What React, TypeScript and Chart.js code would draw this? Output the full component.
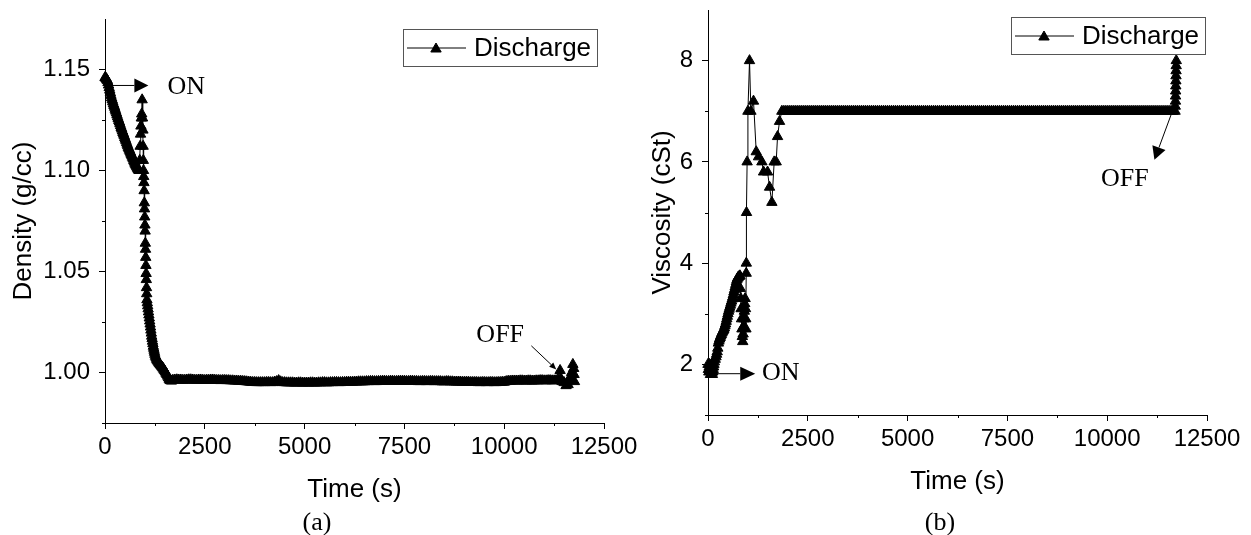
import React, { useEffect, useRef } from 'react';
import { Chart, registerables } from 'chart.js';

Chart.register(...registerables);

// ---------------- data ----------------
const seriesName = 'Discharge';

const xTickLabels = ['0', '2500', '5000', '7500', '10000', '12500'];
const densityTickLabels = ['1.00', '1.05', '1.10', '1.15'];
const viscosityTickLabels = ['2', '4', '6', '8'];

// Density: initial decay (0–855 s)
const densityEarlyTime = [
  0, 15, 30, 45, 60, 75, 90, 105, 120, 135, 150, 165, 180, 195, 210, 225, 240, 255, 270, 285,
  300, 315, 330, 345, 360, 375, 390, 405, 420, 435, 450, 465, 480, 495, 510, 525, 540, 555, 570, 585,
  600, 615, 630, 645, 660, 675, 690, 705, 720, 735, 750, 765, 780, 795, 810, 825, 840, 855,
];
const densityEarlyValues = [
  1.1460, 1.1458, 1.1455, 1.1450, 1.1445, 1.1435, 1.1423, 1.1410, 1.1398, 1.1385, 1.1372, 1.1360, 1.1350,
  1.1340, 1.1330, 1.1322, 1.1313, 1.1303, 1.1294, 1.1285, 1.1275, 1.1266, 1.1257, 1.1248, 1.1240, 1.1231,
  1.1222, 1.1213, 1.1205, 1.1196, 1.1188, 1.1180, 1.1172, 1.1163, 1.1155, 1.1147, 1.1138, 1.1130, 1.1122,
  1.1114, 1.1107, 1.1100, 1.1093, 1.1086, 1.1079, 1.1072, 1.1065, 1.1058, 1.1050, 1.1043, 1.1036, 1.1030,
  1.1024, 1.1018, 1.1012, 1.1007, 1.1003, 1.1000,
];

// Density: spike and steep drop (870–1670 s)
const densityDropTime = [
  870, 880, 890, 900, 910, 920, 930, 940, 950, 955, 960, 965, 970, 975, 980, 985, 990, 995, 1000,
  1005, 1010, 1015, 1020, 1025, 1030, 1035, 1040, 1045,
  1050, 1060, 1070, 1080, 1090, 1100, 1110, 1120, 1130, 1140, 1150, 1160, 1170, 1180, 1190, 1200,
  1210, 1220, 1230, 1240, 1250, 1265, 1280, 1295, 1310, 1330, 1350, 1370, 1390, 1410, 1430, 1450,
  1470, 1490, 1510, 1530, 1550, 1570, 1590, 1610, 1630, 1650, 1670,
];
const densityDropValues = [
  1.105, 1.112, 1.118, 1.122, 1.126, 1.128, 1.135, 1.126, 1.120, 1.112, 1.105, 1.100, 1.097, 1.094, 1.090,
  1.084, 1.081, 1.077, 1.073, 1.070, 1.064, 1.061, 1.057, 1.053, 1.049, 1.046, 1.042, 1.039,
  1.036, 1.0345, 1.033, 1.0315, 1.030, 1.0285, 1.027, 1.0255, 1.024, 1.0225, 1.021, 1.0195, 1.018, 1.0168,
  1.0155, 1.0143, 1.013, 1.012, 1.011, 1.010, 1.009, 1.008, 1.0072, 1.0065, 1.006, 1.0053, 1.0047, 1.0042,
  1.0037, 1.0032, 1.0027, 1.0022, 1.0016, 1.001, 1.0003, 0.9996, 0.999, 0.9982, 0.9974, 0.9966, 0.9961,
  0.9959, 0.9958,
];

// Density: plateau (1700–11300 s)
const densityFlatTime = [
  1700, 1750, 1800, 1850, 1900, 1950,
  2000, 2050, 2100, 2150, 2200, 2250, 2300, 2350, 2400, 2450, 2500, 2550, 2600, 2650, 2700, 2750, 2800, 2850, 2900, 2950,
  3000, 3050, 3100, 3150, 3200, 3250, 3300, 3350, 3400, 3450, 3500, 3550, 3600, 3650, 3700, 3750, 3800, 3850, 3900, 3950,
  4000, 4050, 4100, 4150, 4200, 4250, 4300, 4350, 4400, 4450, 4500, 4550, 4600, 4650, 4700, 4750, 4800, 4850, 4900, 4950,
  5000, 5050, 5100, 5150, 5200, 5250, 5300, 5350, 5400, 5450, 5500, 5550, 5600, 5650, 5700, 5750, 5800, 5850, 5900, 5950,
  6000, 6050, 6100, 6150, 6200, 6250, 6300, 6350, 6400, 6450, 6500, 6550, 6600, 6650, 6700, 6750, 6800, 6850, 6900, 6950,
  7000, 7050, 7100, 7150, 7200, 7250, 7300, 7350, 7400, 7450, 7500, 7550, 7600, 7650, 7700, 7750, 7800, 7850, 7900, 7950,
  8000, 8050, 8100, 8150, 8200, 8250, 8300, 8350, 8400, 8450, 8500, 8550, 8600, 8650, 8700, 8750, 8800, 8850, 8900, 8950,
  9000, 9050, 9100, 9150, 9200, 9250, 9300, 9350, 9400, 9450, 9500, 9550, 9600, 9650, 9700, 9750, 9800, 9850, 9900, 9950,
  10000, 10050, 10100, 10150, 10200, 10250, 10300, 10350, 10400, 10450, 10500, 10550, 10600, 10650, 10700, 10750, 10800,
  10850, 10900, 10950,
  11000, 11050, 11100, 11150, 11200, 11250, 11300,
];
const densityFlatValues = [
  0.9962, 0.9963, 0.9964, 0.9963, 0.9963, 0.9962, 0.9962, 0.9963, 0.9964, 0.9964,
  0.9963, 0.9962, 0.9962, 0.9963, 0.9963, 0.9962, 0.9961, 0.9962, 0.9962, 0.9963,
  0.9963, 0.9962, 0.9961, 0.9961, 0.9960, 0.9961, 0.9961, 0.9960, 0.9960, 0.9959,
  0.9959, 0.9958, 0.9958, 0.9957, 0.9957,
  0.9956, 0.9955, 0.9954, 0.9953, 0.9952, 0.9951, 0.9951, 0.9950, 0.9950, 0.9950, 0.9950,
  0.9950, 0.9951, 0.9951, 0.9950, 0.9950, 0.9953, 0.9955, 0.9960, 0.9954, 0.9950,
  0.9950, 0.9949, 0.9949, 0.9949, 0.9949, 0.9948, 0.9948, 0.9949, 0.9949, 0.9948,
  0.9948, 0.9948, 0.9948, 0.9949, 0.9949, 0.9948, 0.9948, 0.9949, 0.9949, 0.9950,
  0.9950, 0.9949, 0.9949, 0.9950, 0.9950, 0.9951, 0.9951, 0.9950, 0.9950, 0.9951,
  0.9951, 0.9952, 0.9952, 0.9952, 0.9952, 0.9953, 0.9953, 0.9954, 0.9954, 0.9954,
  0.9954,
  0.9955, 0.9955, 0.9956, 0.9956, 0.9955, 0.9955, 0.9956, 0.9956, 0.9957, 0.9957,
  0.9956, 0.9956, 0.9957, 0.9957, 0.9956, 0.9956, 0.9957, 0.9957, 0.9957, 0.9957,
  0.9956, 0.9956, 0.9957, 0.9957, 0.9956, 0.9956, 0.9955, 0.9955, 0.9956, 0.9956,
  0.9955, 0.9955, 0.9956, 0.9956, 0.9955, 0.9955, 0.9955, 0.9955, 0.9954, 0.9954,
  0.9955, 0.9955, 0.9954, 0.9954, 0.9953, 0.9953, 0.9953, 0.9953, 0.9952, 0.9952,
  0.9952, 0.9952, 0.9951, 0.9951, 0.9951, 0.9951, 0.9950, 0.9950, 0.9951, 0.9951,
  0.9950, 0.9950, 0.9951, 0.9951, 0.9950, 0.9950, 0.9951, 0.9951, 0.9952, 0.9952,
  0.9955, 0.9957, 0.9957, 0.9958, 0.9958, 0.9958, 0.9958, 0.9959, 0.9959, 0.9958,
  0.9958, 0.9959, 0.9959, 0.9958, 0.9958, 0.9959, 0.9959, 0.9960, 0.9960, 0.9959,
  0.9959, 0.9960, 0.9960, 0.9959, 0.9959, 0.9960,
];

// Density: switch-off scatter (11350–11760 s)
const densityEndTime = [11350, 11400, 11420, 11450, 11500, 11550, 11600, 11630, 11660, 11690, 11720, 11740, 11750, 11760];
const densityEndValues = [0.9965, 1.001, 0.997, 0.9955, 0.995, 0.9935, 0.994, 0.996, 0.998, 1.0, 1.004, 1.002, 0.999, 0.9955];

// Viscosity: start-up and rise (0–950 s)
const viscosityEarlyTime = [
  0, 10, 20, 30, 40, 50, 60, 70, 80, 90, 100, 110, 120, 130, 140, 150, 160, 180, 200, 215, 230, 245,
  260, 275, 290, 305, 320, 335, 350, 365, 380, 395, 410, 425, 440, 455, 470, 485, 500, 515, 530, 545,
  560, 575, 590, 605, 620, 635, 650, 665, 680, 695, 710, 725, 740, 755, 770, 785, 800,
  810, 820, 830, 840, 850, 860, 870, 880, 890, 900, 910, 920, 930, 940, 945, 950,
];
const viscosityEarlyValues = [
  2.0, 1.9, 1.85, 1.95, 2.0, 1.9, 1.8, 1.85, 1.95, 2.0, 1.9, 1.8, 1.85, 1.9, 1.95, 2.0, 2.05, 2.1, 2.15, 2.2,
  2.25, 2.32, 2.42, 2.46, 2.5, 2.53, 2.56, 2.59, 2.62, 2.645, 2.67, 2.69, 2.72, 2.76, 2.8, 2.85, 2.9, 2.95,
  3.0, 3.05, 3.09, 3.13, 3.17, 3.21, 3.25, 3.29, 3.33, 3.38, 3.43, 3.48, 3.53, 3.58, 3.63, 3.67, 3.7, 3.72,
  3.73, 3.74, 3.75,
  3.5, 3.3, 3.1, 2.9, 2.7, 2.55, 2.45, 2.6, 2.75, 2.9, 3.05, 3.2, 3.3, 3.1, 2.9, 2.7,
];

// Viscosity: jump and settling (957–1850 s)
const viscosityJumpTime = [957, 960, 965, 980, 1000, 1040, 1075, 1140, 1208, 1266, 1350, 1392, 1492, 1542, 1600, 1658, 1708, 1742, 1792, 1850];
const viscosityJumpValues = [3.8, 4.0, 5.0, 6.0, 7.0, 8.0, 7.0, 7.2, 6.2, 6.1, 6.0, 5.8, 5.8, 5.5, 5.2, 6.0, 6.0, 6.5, 6.8, 7.0];

// Viscosity: plateau (1900–11650 s)
const viscosityFlatTime = [
  1900, 1950,
  2000, 2050, 2100, 2150, 2200, 2250, 2300, 2350, 2400, 2450, 2500, 2550, 2600, 2650, 2700, 2750, 2800, 2850, 2900, 2950,
  3000, 3050, 3100, 3150, 3200, 3250, 3300, 3350, 3400, 3450, 3500, 3550, 3600, 3650, 3700, 3750, 3800, 3850, 3900, 3950,
  4000, 4050, 4100, 4150, 4200, 4250, 4300, 4350, 4400, 4450, 4500, 4550, 4600, 4650, 4700, 4750, 4800, 4850, 4900, 4950,
  5000, 5050, 5100, 5150, 5200, 5250, 5300, 5350, 5400, 5450, 5500, 5550, 5600, 5650, 5700, 5750, 5800, 5850, 5900, 5950,
  6000, 6050, 6100, 6150, 6200, 6250, 6300, 6350, 6400, 6450, 6500, 6550, 6600, 6650, 6700, 6750, 6800, 6850, 6900, 6950,
  7000, 7050, 7100, 7150, 7200, 7250, 7300, 7350, 7400, 7450, 7500, 7550, 7600, 7650, 7700, 7750, 7800, 7850, 7900, 7950,
  8000, 8050, 8100, 8150, 8200, 8250, 8300, 8350, 8400, 8450, 8500, 8550, 8600, 8650, 8700, 8750, 8800, 8850, 8900, 8950,
  9000, 9050, 9100, 9150, 9200, 9250, 9300, 9350, 9400, 9450, 9500, 9550, 9600, 9650, 9700, 9750, 9800, 9850, 9900, 9950,
  10000, 10050, 10100, 10150, 10200, 10250, 10300, 10350, 10400, 10450, 10500, 10550, 10600, 10650, 10700, 10750, 10800,
  10850, 10900, 10950,
  11000, 11050, 11100, 11150, 11200, 11250, 11300, 11350, 11400, 11450, 11500, 11550, 11600, 11650,
];
const viscosityFlatValues = [
  7, 7,
  7, 7, 7, 7, 7, 7, 7, 7, 7, 7, 7, 7, 7, 7, 7, 7, 7, 7, 7, 7,
  7, 7, 7, 7, 7, 7, 7, 7, 7, 7, 7, 7, 7, 7, 7, 7, 7, 7, 7, 7,
  7, 7, 7, 7, 7, 7, 7, 7, 7, 7, 7, 7, 7, 7, 7, 7, 7, 7, 7, 7,
  7, 7, 7, 7, 7, 7, 7, 7, 7, 7, 7, 7, 7, 7, 7, 7, 7, 7, 7, 7,
  7, 7, 7, 7, 7, 7, 7, 7, 7, 7, 7, 7, 7, 7, 7, 7, 7, 7, 7, 7,
  7, 7, 7, 7, 7, 7, 7, 7, 7, 7, 7, 7, 7, 7, 7, 7, 7, 7, 7, 7,
  7, 7, 7, 7, 7, 7, 7, 7, 7, 7, 7, 7, 7, 7, 7, 7, 7, 7, 7, 7,
  7, 7, 7, 7, 7, 7, 7, 7, 7, 7, 7, 7, 7, 7, 7, 7, 7, 7, 7, 7,
  7, 7, 7, 7, 7, 7, 7, 7, 7, 7, 7, 7, 7, 7, 7, 7, 7, 7, 7, 7,
  7, 7, 7, 7, 7, 7, 7, 7, 7, 7, 7, 7, 7, 7,
];

// Viscosity: switch-off stack (11700–11730 s)
const viscosityEndTime = [11700, 11705, 11710, 11712, 11715, 11718, 11720, 11723, 11725, 11728, 11730];
const viscosityEndValues = [7.0, 7.1, 7.2, 7.3, 7.4, 7.5, 7.6, 7.7, 7.8, 7.9, 8.0];

const densityTime = [...densityEarlyTime, ...densityDropTime, ...densityFlatTime, ...densityEndTime];
const densityValues = [...densityEarlyValues, ...densityDropValues, ...densityFlatValues, ...densityEndValues];
const viscosityTime = [...viscosityEarlyTime, ...viscosityJumpTime, ...viscosityFlatTime, ...viscosityEndTime];
const viscosityValues = [...viscosityEarlyValues, ...viscosityJumpValues, ...viscosityFlatValues, ...viscosityEndValues];

// ---------------- styling ----------------
const SANS = '"Liberation Sans", Arial, sans-serif';
const SERIF = '"Liberation Serif", "Times New Roman", serif';

type Note = {
  text: string;
  tx: number;
  ty: number;
  align: CanvasTextAlign;
  from: [number, number];
  to: [number, number];
  headLen: number;
  headHalf: number;
};

function drawTriangle(ctx: CanvasRenderingContext2D, x: number, y: number, r: number) {
  ctx.beginPath();
  ctx.moveTo(x, y - r);
  ctx.lineTo(x + r * 0.866, y + r * 0.5);
  ctx.lineTo(x - r * 0.866, y + r * 0.5);
  ctx.closePath();
  ctx.fill();
  ctx.stroke();
}

const minorTicksPlugin = {
  id: 'minorTicks',
  afterDraw(chart: any) {
    const ctx = chart.ctx;
    const xs = chart.scales.x;
    const ys = chart.scales.y;
    ctx.save();
    ctx.strokeStyle = '#000';
    ctx.lineWidth = 1;
    xs.ticks.forEach((t: any) => {
      if (t.label === '') {
        const px = Math.round(xs.getPixelForValue(t.value)) + 0.5;
        ctx.beginPath();
        ctx.moveTo(px, xs.top);
        ctx.lineTo(px, xs.top + 3);
        ctx.stroke();
      }
    });
    ys.ticks.forEach((t: any) => {
      if (t.label === '' && Math.abs(t.value - ys.max) > 1e-9) {
        const py = Math.round(ys.getPixelForValue(t.value)) + 0.5;
        ctx.beginPath();
        ctx.moveTo(ys.right, py);
        ctx.lineTo(ys.right - 3, py);
        ctx.stroke();
      }
    });
    ctx.restore();
  },
};

const notesPlugin = {
  id: 'notes',
  afterDatasetsDraw(chart: any, _args: any, opts: any) {
    const items: Note[] = (opts && opts.items) || [];
    const ctx = chart.ctx;
    const xs = chart.scales.x;
    const ys = chart.scales.y;
    ctx.save();
    ctx.strokeStyle = '#000';
    ctx.fillStyle = '#000';
    ctx.lineWidth = 1;
    items.forEach((n) => {
      const x1 = xs.getPixelForValue(n.from[0]);
      const y1 = ys.getPixelForValue(n.from[1]);
      const x2 = xs.getPixelForValue(n.to[0]);
      const y2 = ys.getPixelForValue(n.to[1]);
      const ang = Math.atan2(y2 - y1, x2 - x1);
      const bx = x2 - Math.cos(ang) * n.headLen;
      const by = y2 - Math.sin(ang) * n.headLen;
      ctx.beginPath();
      ctx.moveTo(x1, y1);
      ctx.lineTo(bx, by);
      ctx.stroke();
      ctx.beginPath();
      ctx.moveTo(x2, y2);
      ctx.lineTo(bx + Math.sin(ang) * n.headHalf, by - Math.cos(ang) * n.headHalf);
      ctx.lineTo(bx - Math.sin(ang) * n.headHalf, by + Math.cos(ang) * n.headHalf);
      ctx.closePath();
      ctx.fill();
      ctx.font = '26px ' + SERIF;
      ctx.textAlign = n.align;
      ctx.textBaseline = 'middle';
      ctx.fillText(n.text, xs.getPixelForValue(n.tx), ys.getPixelForValue(n.ty));
    });
    ctx.restore();
  },
};

const boxLegendPlugin = {
  id: 'boxLegend',
  afterDraw(chart: any, _args: any, opts: any) {
    const ctx = chart.ctx;
    const ca = chart.chartArea;
    const w = 194;
    const h = 37;
    const bx = Math.round(ca.right - opts.rightInset - w);
    const by = Math.round(ca.top + opts.topInset);
    ctx.save();
    ctx.fillStyle = '#fff';
    ctx.fillRect(bx, by, w, h);
    ctx.strokeStyle = '#555';
    ctx.lineWidth = 1;
    ctx.strokeRect(bx + 0.5, by + 0.5, w, h);
    const cy = by + h / 2 + 0.5;
    ctx.strokeStyle = '#000';
    ctx.beginPath();
    ctx.moveTo(bx + 4, cy);
    ctx.lineTo(bx + 63, cy);
    ctx.stroke();
    ctx.fillStyle = '#000';
    drawTriangle(ctx, bx + 33, cy + 1, 6);
    ctx.font = '26px ' + SANS;
    ctx.textAlign = 'left';
    ctx.textBaseline = 'middle';
    ctx.fillText(chart.data.datasets[0].label, bx + 71, cy + 1);
    ctx.restore();
  },
};

type PanelProps = {
  left: number;
  width: number;
  height: number;
  times: number[];
  values: number[];
  yMin: number;
  yMax: number;
  yStep: number;
  yLabels: string[];
  yDigits: number;
  yTitle: string;
  yAxisWidth: number;
  yTitlePad: number;
  padTop: number;
  padRight: number;
  padBottom: number;
  legendRightInset: number;
  legendTopInset: number;
  notes: Note[];
};

function Panel(p: PanelProps) {
  const ref = useRef<HTMLCanvasElement | null>(null);
  useEffect(() => {
    if (!ref.current) return;
    const data = p.times.map((t, i) => ({ x: t, y: p.values[i] }));
    const chart = new Chart(ref.current, {
      type: 'line',
      data: {
        datasets: [
          {
            label: seriesName,
            data,
            borderColor: '#000',
            borderWidth: 1,
            backgroundColor: '#000',
            pointStyle: 'triangle',
            pointRadius: 6,
            pointBackgroundColor: '#000',
            pointBorderColor: '#000',
            pointBorderWidth: 1,
            tension: 0,
            clip: false as any,
          },
        ],
      },
      options: {
        animation: false,
        responsive: false,
        devicePixelRatio: 1,
        events: [],
        layout: { padding: { left: 0, top: p.padTop, right: p.padRight, bottom: p.padBottom } },
        plugins: {
          legend: { display: false },
          tooltip: { enabled: false },
          notes: { items: p.notes },
          boxLegend: { rightInset: p.legendRightInset, topInset: p.legendTopInset },
        } as any,
        scales: {
          x: {
            type: 'linear',
            min: 0,
            max: 12500,
            ticks: {
              stepSize: 1250,
              autoSkip: false,
              maxRotation: 0,
              padding: 4,
              color: '#000',
              font: { family: SANS, size: 24 },
              callback: (v: any) => (xTickLabels.includes(String(v)) ? String(v) : ''),
            },
            grid: {
              display: true,
              drawOnChartArea: false,
              drawTicks: true,
              tickLength: 6,
              color: '#000',
              tickColor: (c: any) => (c.tick && c.tick.label === '' ? 'rgba(0,0,0,0)' : '#000'),
            },
            border: { display: true, color: '#000', width: 1 },
            title: {
              display: true,
              text: 'Time (s)',
              color: '#000',
              font: { family: SANS, size: 26 },
              padding: { top: 0, bottom: 0 },
            },
            afterFit: (s: any) => {
              s.height = 82;
              s.paddingLeft = 0;
              s.paddingRight = 0;
            },
          },
          y: {
            type: 'linear',
            min: p.yMin,
            max: p.yMax,
            ticks: {
              stepSize: p.yStep,
              autoSkip: false,
              padding: 9,
              color: '#000',
              font: { family: SANS, size: 24 },
              callback: (v: any) => {
                const s = Number(v).toFixed(p.yDigits);
                return p.yLabels.includes(s) && Math.abs(Number(s) - Number(v)) < 1e-6 ? s : '';
              },
            },
            grid: {
              display: true,
              drawOnChartArea: false,
              drawTicks: true,
              tickLength: 6,
              color: '#000',
              tickColor: (c: any) => (c.tick && c.tick.label === '' ? 'rgba(0,0,0,0)' : '#000'),
            },
            border: { display: true, color: '#000', width: 1 },
            title: {
              display: true,
              text: p.yTitle,
              color: '#000',
              font: { family: SANS, size: 26 },
              padding: { top: p.yTitlePad, bottom: 0 },
            },
            afterFit: (s: any) => {
              s.width = p.yAxisWidth;
              s.paddingTop = 0;
              s.paddingBottom = 0;
            },
          },
        },
      } as any,
      plugins: [minorTicksPlugin, notesPlugin, boxLegendPlugin],
    });
    return () => chart.destroy();
  }, []);
  return (
    <canvas
      ref={ref}
      width={p.width}
      height={p.height}
      style={{ position: 'absolute', left: p.left, top: 0, width: p.width, height: p.height }}
    />
  );
}

const densityNotes: Note[] = [
  { text: 'ON', tx: 1565, ty: 1.1411, align: 'left', from: [150, 1.1421], to: [1087, 1.1421], headLen: 14, headHalf: 7 },
  { text: 'OFF', tx: 9900, ty: 1.0185, align: 'center', from: [10680, 1.0132], to: [11305, 1.0015], headLen: 7, headHalf: 3 },
];

const viscosityNotes: Note[] = [
  { text: 'ON', tx: 1350, ty: 1.83, align: 'left', from: [100, 1.816], to: [1183, 1.816], headLen: 15, headHalf: 7 },
  { text: 'OFF', tx: 10440, ty: 5.65, align: 'center', from: [11600, 6.93], to: [11183, 6.04], headLen: 13, headHalf: 7 },
];

const captionStyle: React.CSSProperties = {
  position: 'absolute',
  top: 522,
  transform: 'translate(-50%, -50%)',
  fontFamily: SERIF,
  fontSize: 26,
  lineHeight: 1,
  whiteSpace: 'nowrap',
  color: '#000',
};

export default function App() {
  return (
    <div style={{ position: 'absolute', left: 0, top: 0, width: 1251, height: 535, background: '#fff' }}>
      <Panel
        left={0}
        width={645}
        height={535}
        times={densityTime}
        values={densityValues}
        yMin={0.975}
        yMax={1.175}
        yStep={0.025}
        yLabels={densityTickLabels}
        yDigits={2}
        yTitle="Density (g/cc)"
        yAxisWidth={105}
        yTitlePad={8}
        padTop={19}
        padRight={41}
        padBottom={30}
        legendRightInset={7}
        legendTopInset={10}
        notes={densityNotes}
      />
      <Panel
        left={640}
        width={611}
        height={535}
        times={viscosityTime}
        values={viscosityValues}
        yMin={1}
        yMax={9}
        yStep={1}
        yLabels={viscosityTickLabels}
        yDigits={0}
        yTitle="Viscosity (cSt)"
        yAxisWidth={68}
        yTitlePad={7}
        padTop={10}
        padRight={44}
        padBottom={38}
        legendRightInset={2}
        legendTopInset={7}
        notes={viscosityNotes}
      />
      <div style={{ ...captionStyle, left: 317 }}>(a)</div>
      <div style={{ ...captionStyle, left: 940 }}>(b)</div>
    </div>
  );
}
